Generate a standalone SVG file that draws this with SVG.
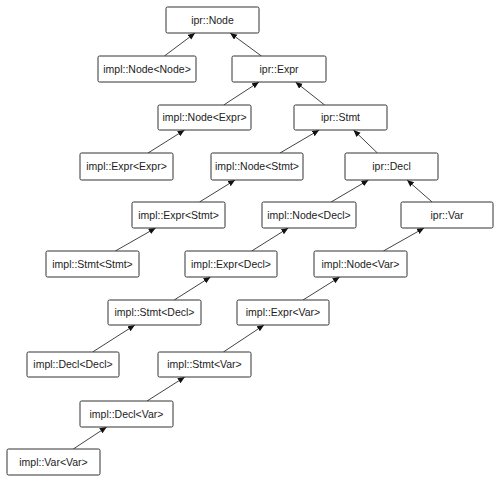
<svg xmlns="http://www.w3.org/2000/svg" width="500" height="483" viewBox="0 0 500 483">
<style>
.n rect{fill:#fff;stroke:#333;stroke-width:1}
.n text{font-family:"Liberation Sans",Arial,sans-serif;font-size:10.5px;fill:#222;text-anchor:middle}
#edges line{stroke:#444;stroke-width:1;marker-end:url(#ah)}
</style>
<defs>
<marker id="ah" markerUnits="userSpaceOnUse" markerWidth="8" markerHeight="7" refX="7" refY="3" orient="auto">
<path d="M0,0 L7,3 L0,6 z" fill="#111"/>
</marker>
</defs>
<rect width="500" height="483" fill="#fff"/>
<g id="edges">
<line x1="164.4" y1="56" x2="195.1" y2="33"/>
<line x1="261.4" y1="56" x2="230.1" y2="33"/>
<line x1="223.7" y1="105" x2="259" y2="82"/>
<line x1="324.6" y1="105" x2="295.5" y2="82"/>
<line x1="148" y1="153" x2="184.6" y2="130"/>
<line x1="280" y1="153" x2="319.2" y2="130"/>
<line x1="377.4" y1="153" x2="353.5" y2="130"/>
<line x1="199.5" y1="202" x2="235.1" y2="180"/>
<line x1="331.1" y1="202" x2="368.5" y2="180"/>
<line x1="432.1" y1="202" x2="407" y2="180"/>
<line x1="115.3" y1="251" x2="155.7" y2="228"/>
<line x1="251.7" y1="251" x2="288.3" y2="228"/>
<line x1="383.4" y1="251" x2="424.1" y2="228"/>
<line x1="174.2" y1="300" x2="210.5" y2="277"/>
<line x1="303" y1="300" x2="339.7" y2="277"/>
<line x1="92.6" y1="352" x2="134.9" y2="325"/>
<line x1="223.4" y1="352" x2="264.1" y2="325"/>
<line x1="147" y1="401" x2="184.8" y2="377"/>
<line x1="73.3" y1="449" x2="106.7" y2="427"/>
</g>
<g id="ipr_Node" class="n"><rect x="166" y="7" width="93" height="26" rx="1.5"/><text x="212.5" y="23.7">ipr::Node</text></g>
<g id="impl_Node_Node" class="n"><rect x="98" y="56" width="98" height="26" rx="1.5"/><text x="147" y="72.7">impl::Node&lt;Node&gt;</text></g>
<g id="ipr_Expr" class="n"><rect x="232" y="56" width="94" height="26" rx="1.5"/><text x="279" y="72.7">ipr::Expr</text></g>
<g id="impl_Node_Expr" class="n"><rect x="158" y="105" width="93" height="25" rx="1.5"/><text x="204.5" y="121.2">impl::Node&lt;Expr&gt;</text></g>
<g id="ipr_Stmt" class="n"><rect x="294" y="105" width="93" height="25" rx="1.5"/><text x="340.5" y="121.2">ipr::Stmt</text></g>
<g id="impl_Expr_Expr" class="n"><rect x="80" y="153" width="93" height="27" rx="1.5"/><text x="126.5" y="170.2">impl::Expr&lt;Expr&gt;</text></g>
<g id="impl_Node_Stmt" class="n"><rect x="211" y="153" width="92" height="27" rx="1.5"/><text x="257" y="170.2">impl::Node&lt;Stmt&gt;</text></g>
<g id="ipr_Decl" class="n"><rect x="345" y="153" width="93" height="27" rx="1.5"/><text x="391.5" y="170.2">ipr::Decl</text></g>
<g id="impl_Expr_Stmt" class="n"><rect x="132" y="202" width="93" height="26" rx="1.5"/><text x="178.5" y="218.7">impl::Expr&lt;Stmt&gt;</text></g>
<g id="impl_Node_Decl" class="n"><rect x="262" y="202" width="94" height="26" rx="1.5"/><text x="309" y="218.7">impl::Node&lt;Decl&gt;</text></g>
<g id="ipr_Var" class="n"><rect x="401" y="202" width="92" height="26" rx="1.5"/><text x="447" y="218.7">ipr::Var</text></g>
<g id="impl_Stmt_Stmt" class="n"><rect x="46" y="251" width="93" height="26" rx="1.5"/><text x="92.5" y="267.7">impl::Stmt&lt;Stmt&gt;</text></g>
<g id="impl_Expr_Decl" class="n"><rect x="185" y="251" width="92" height="26" rx="1.5"/><text x="231" y="267.7">impl::Expr&lt;Decl&gt;</text></g>
<g id="impl_Node_Var" class="n"><rect x="314" y="251" width="93" height="26" rx="1.5"/><text x="360.5" y="267.7">impl::Node&lt;Var&gt;</text></g>
<g id="impl_Stmt_Decl" class="n"><rect x="108" y="300" width="93" height="25" rx="1.5"/><text x="154.5" y="316.2">impl::Stmt&lt;Decl&gt;</text></g>
<g id="impl_Expr_Var" class="n"><rect x="237" y="300" width="92" height="25" rx="1.5"/><text x="283" y="316.2">impl::Expr&lt;Var&gt;</text></g>
<g id="impl_Decl_Decl" class="n"><rect x="27" y="352" width="92" height="25" rx="1.5"/><text x="73" y="368.2">impl::Decl&lt;Decl&gt;</text></g>
<g id="impl_Stmt_Var" class="n"><rect x="158" y="352" width="93" height="25" rx="1.5"/><text x="204.5" y="368.2">impl::Stmt&lt;Var&gt;</text></g>
<g id="impl_Decl_Var" class="n"><rect x="80" y="401" width="93" height="26" rx="1.5"/><text x="126.5" y="417.7">impl::Decl&lt;Var&gt;</text></g>
<g id="impl_Var_Var" class="n"><rect x="7" y="449" width="93" height="26" rx="1.5"/><text x="53.5" y="465.7">impl::Var&lt;Var&gt;</text></g>
</svg>
